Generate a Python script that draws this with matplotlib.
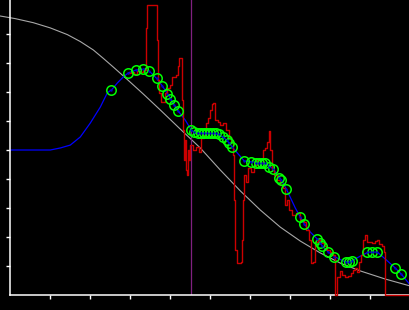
import numpy as np
import matplotlib
matplotlib.use("Agg")
import matplotlib.pyplot as plt

# smooth reference curve (grey)
ref_x = [-10, 5, 23, 40, 57, 70, 83, 93, 103, 118, 133, 150, 170, 190, 210,
         230, 250, 270, 290, 310, 330, 350, 375, 400]
ref_y = [9.62, 9.53, 9.39, 9.21, 8.98, 8.74, 8.45, 8.16, 7.86, 7.40, 6.93,
         6.38, 5.72, 5.07, 4.31, 3.59, 2.93, 2.34, 1.86, 1.45, 1.10, 0.83,
         0.55, 0.31]

# fitted track (blue)
fit_x = [0, 40, 50, 60, 70, 80, 90, 97, 102, 107, 113, 118, 126, 134, 139,
         146, 152, 158, 164, 168, 175, 181, 185, 195, 205, 213, 219, 222,
         228, 234, 243, 252, 258, 263, 271, 276, 285, 290, 294, 300, 307,
         312, 318, 325, 335, 341, 350, 358, 367, 376, 385, 391, 400]
fit_y = [5.00, 5.00, 5.07, 5.17, 5.45, 5.93, 6.48, 6.97, 7.10, 7.31, 7.52,
         7.66, 7.76, 7.79, 7.72, 7.48, 7.21, 6.90, 6.55, 6.34, 6.03, 5.69,
         5.59, 5.59, 5.55, 5.45, 5.24, 5.10, 4.86, 4.62, 4.59, 4.55, 4.48,
         4.34, 3.97, 3.66, 3.00, 2.69, 2.45, 2.17, 1.93, 1.69, 1.48, 1.31,
         1.14, 1.17, 1.34, 1.48, 1.48, 1.21, 0.93, 0.72, 0.34]

# detected points (green)
det_x = [101, 118, 126, 133, 139, 147, 152, 157, 160, 164, 168, 181, 184,
         188, 191, 194, 197, 200, 203, 206, 209, 213, 217, 219, 222, 234,
         241, 246, 249, 252, 255, 259, 263, 269, 271, 276, 290, 294, 307,
         310, 312, 318, 324, 336, 339, 342, 357, 362, 367, 385, 391]
det_y = [7.07, 7.66, 7.76, 7.79, 7.72, 7.48, 7.21, 6.93, 6.76, 6.55, 6.34,
         5.69, 5.62, 5.59, 5.59, 5.59, 5.59, 5.59, 5.59, 5.59, 5.55, 5.45,
         5.34, 5.24, 5.10, 4.62, 4.59, 4.55, 4.55, 4.55, 4.55, 4.41, 4.34,
         4.03, 3.97, 3.66, 2.69, 2.45, 1.93, 1.79, 1.69, 1.48, 1.31, 1.14,
         1.14, 1.17, 1.48, 1.48, 1.48, 0.93, 0.72]

# raw measurement (red, step)
raw_x = [118, 121, 124, 127, 130, 133, 136, 137, 147, 148, 149, 151, 155,
         157, 160, 162, 166, 168, 169, 171, 172, 173, 174, 175, 176, 177,
         178, 179, 180, 183, 186, 189, 191, 194, 196, 198, 200, 202, 203,
         205, 208, 210, 213, 216, 219, 221, 223, 224, 225, 227, 231, 232,
         233, 234, 236, 238, 241, 244, 247, 250, 253, 255, 257, 259, 260,
         262, 264, 267, 270, 273, 275, 277, 279, 282, 286, 290, 294, 296,
         299, 301, 303, 305, 308, 311, 314, 317, 320, 323, 325, 327, 330,
         332, 335, 338, 341, 343, 345, 347, 349, 351, 353, 355, 357, 362,
         365, 367, 369, 372, 374, 375, 400]
raw_y = [7.66, 7.69, 7.62, 7.72, 7.69, 7.76, 9.21, 10.00, 8.79, 7.41, 6.97,
         6.66, 6.97, 7.14, 7.24, 7.52, 7.59, 7.90, 8.17, 8.17, 6.72, 5.69,
         4.66, 5.34, 4.31, 4.14, 5.00, 4.66, 5.17, 5.00, 5.10, 4.93, 5.41,
         5.52, 5.93, 6.10, 6.38, 6.59, 6.62, 6.03, 5.97, 5.86, 5.93, 5.69,
         5.45, 5.28, 4.83, 3.28, 1.55, 1.10, 1.14, 1.90, 3.28, 4.14, 3.90,
         4.38, 4.24, 4.48, 4.66, 4.55, 5.00, 5.07, 5.28, 5.66, 5.00, 4.31,
         4.14, 3.97, 3.79, 3.69, 3.10, 3.28, 2.93, 2.76, 2.83, 2.59, 2.52,
         2.24, 1.90, 1.10, 1.14, 1.83, 1.90, 1.79, 1.69, 1.55, 1.48, 1.38,
         0.00, 0.62, 0.83, 0.69, 0.62, 0.66, 0.76, 0.86, 0.93, 0.79, 1.14,
         1.38, 1.90, 2.07, 1.83, 1.79, 1.86, 1.90, 1.76, 1.69, 1.48, 0.00,
         0.00]

marker_x = 181

fig = plt.figure(figsize=(4.1, 3.1), dpi=100, facecolor='black')
ax = fig.add_axes([10.3 / 410, 15 / 310, 400 / 410, 295 / 310])
ax.set_facecolor('black')

ax.plot(ref_x, ref_y, color='#a8a8a8', lw=0.8, clip_on=False, zorder=1)
ax.axvline(marker_x, color='#802080', lw=0.9, zorder=1.5)
ax.plot(fit_x, fit_y, color='#0000ff', lw=0.9, zorder=2)
ax.plot(raw_x, raw_y, color='#cc0000', lw=1.0, drawstyle='steps-post',
        clip_on=False, zorder=3)
ax.plot(det_x, det_y, 'o', ms=6.8, mfc='none', mec='#00ff00', mew=1.1, zorder=4)
ax.plot(det_x, det_y, '.', ms=1.5, color='#0000cc', zorder=5)

ax.set_xlim(0, 400)
ax.set_ylim(0, 295 / 29)
ax.set_xticks(np.arange(40, 361, 40))
ax.set_yticks(np.arange(1, 10))
ax.tick_params(colors='white', direction='out', length=2.8, width=1,
               labelleft=False, labelbottom=False)
for s in ['top', 'right']:
    ax.spines[s].set_visible(False)
for s in ['left', 'bottom']:
    ax.spines[s].set_color('white')
    ax.spines[s].set_linewidth(1.1)

fig.savefig('out.png', dpi=100, facecolor='black')
